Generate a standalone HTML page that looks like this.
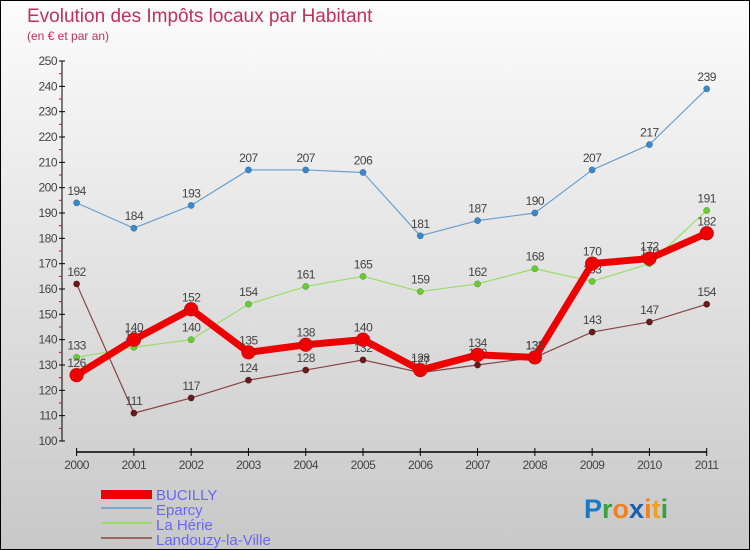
<!DOCTYPE html>
<html><head><meta charset="utf-8"><style>
body{margin:0}
#c{width:748px;height:548px;border:1px solid #000;background:linear-gradient(#fcfcfc,#c8c8c8);position:relative;overflow:hidden;font-family:"Liberation Sans",sans-serif}
</style></head><body>
<div id="c">
<svg id="s" width="748" height="548" xmlns="http://www.w3.org/2000/svg" font-family="Liberation Sans, sans-serif">
<text x="26" y="21" font-size="19" fill="#c0305a">Evolution des Impôts locaux par Habitant</text>
<text x="26" y="39" font-size="12" fill="#c0305a">(en € et par an)</text>
<g id="axes"></g><g id="series"></g>
<g>
<rect x="100" y="489" width="51" height="9" fill="#e00"/>
<line x1="100" y1="507" x2="151" y2="507" stroke="#7aa7cc" stroke-width="2"/>
<line x1="100" y1="522" x2="151" y2="522" stroke="#99dd66" stroke-width="2"/>
<line x1="100" y1="537" x2="151" y2="537" stroke="#996666" stroke-width="2"/>
<text x="155" y="499" font-size="15" fill="#6666ff">BUCILLY</text>
<text x="155" y="514" font-size="15" fill="#6666ff">Eparcy</text>
<text x="155" y="529" font-size="15" fill="#6666ff">La Hérie</text>
<text x="155" y="544" font-size="15" fill="#6666ff">Landouzy-la-Ville</text>
</g>
<text x="583" y="517" font-size="27" font-weight="bold"><tspan fill="#1a7ac8">P</tspan><tspan fill="#3aa040">r</tspan><tspan fill="#f08020">o</tspan><tspan fill="#1a60b0">x</tspan><tspan fill="#f08020">i</tspan><tspan fill="#f0a020">t</tspan><tspan fill="#3aa040">i</tspan></text>
</svg></div>
<script>
const years=[2000,2001,2002,2003,2004,2005,2006,2007,2008,2009,2010,2011];
const bucilly=[126,140,152,135,138,140,128,134,133,170,172,182];
const eparcy=[194,184,193,207,207,206,181,187,190,207,217,239];
const laHerie=[133,137,140,154,161,165,159,162,168,163,170,191];
const landouzy=[162,111,117,124,128,132,127,130,133,143,147,154];
const yTicks=[100,110,120,130,140,150,160,170,180,190,200,210,220,230,240,250];
const NS="http://www.w3.org/2000/svg";
const x=i=>75.6+i*(705.7-75.6)/11;
const y=v=>440-(v-100)*380/150;
function mk(t,a,p){const e=document.createElementNS(NS,t);for(const k in a)e.setAttribute(k,a[k]);p.appendChild(e);return e;}
const ax=document.getElementById('axes');
const yl=mk('line',{x1:61,y1:y(250),x2:61,y2:y(100),stroke:'#000'},ax);


yTicks.forEach(v=>{
 mk('line',{x1:58,x2:64,y1:y(v),y2:y(v),stroke:'#000'},ax);
 if(v<250)mk('line',{x1:58,x2:61,y1:y(v+5),y2:y(v+5),stroke:'#e00'},ax);
 const t=mk('text',{x:56,y:y(v)+4,'font-size':12,fill:'#444','text-anchor':'end','letter-spacing':'-0.5'},ax);t.textContent=v;
 
 
});
const xl=mk('line',{x1:75.6,y1:451,x2:705.7,y2:451,stroke:'#000','stroke-width':1.5},ax);


years.forEach((yr,i)=>{
 mk('line',{x1:x(i),x2:x(i),y1:447,y2:455,stroke:'#000'},ax);
 const t=mk('text',{x:x(i),y:468,'font-size':12,fill:'#444','text-anchor':'middle','letter-spacing':'-0.5'},ax);t.textContent=yr;
 
 
});
const sg=document.getElementById('series');
function series(data,color,w,r,name,dot){
 const g=mk('g',{},sg);
 
 
 mk('polyline',{points:data.map((v,i)=>x(i)+','+y(v)).join(' '),fill:'none',stroke:color,'stroke-width':w,'stroke-linejoin':'round'},g);
 data.forEach((v,i)=>{
  const c=mk('circle',{cx:x(i),cy:y(v),r:r,fill:dot,stroke:'rgba(0,0,0,0.3)','stroke-width':0.5},g);
  
  
  const t=mk('text',{x:x(i),y:y(v)-8,'font-size':12,fill:'#444','text-anchor':'middle','letter-spacing':'-0.5'},g);t.textContent=v;
  
  
 });
}
series(eparcy,'#6aa0d0',1.2,3.2,'series-eparcy','#3a88cc');
series(laHerie,'#99dd66',1.2,3.2,'series-la-herie','#66cc33');
series(landouzy,'#884444',1.2,3.2,'series-landouzy','#661a1a');
series(bucilly,'#ee0000',7,7,'series-bucilly','#ee0000');
</script>
</body></html>
